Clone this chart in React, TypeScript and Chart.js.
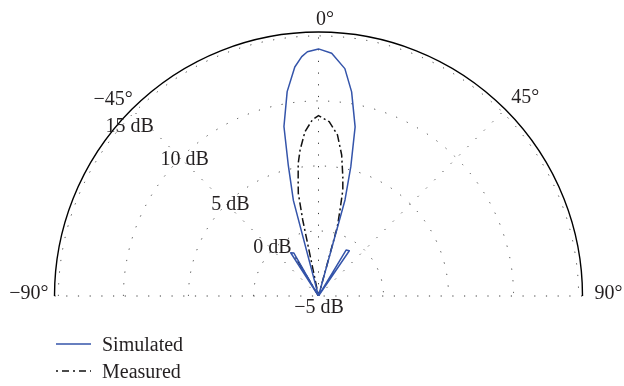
import React, { useEffect, useRef } from 'react';
import { Chart, registerables } from 'chart.js';

Chart.register(...registerables);

// Radial range in dB: centre of the half-disc and outer frame
const rMin = -5;
const rMax = 15.3;

// Grid
const ringLevels = [0, 5, 10, 15];
const ringLabels = ['0 dB', '5 dB', '10 dB', '15 dB'];
const spokeAngles = [-45, 0, 45];
const angleTicks = [-90, -45, 0, 45, 90];
const angleTickLabels = ['−90°', '−45°', '0°', '45°', '90°'];
const centreLabel = '−5 dB';

// Series (angle in degrees from broadside, gain in dB)
const simulatedAngles = [-90, -36, -32.7, -29.8, -25, -18, -14.7, -13, -11.5, -8.7, -5.9, -4, -2.6, 0, 3.1, 6.6, 9.2, 12.2, 14, 15.4, 19, 26, 30.9, 34.2, 38, 90];
const simulatedDb = [-5, -5, -1.05, -1.2, -5, -5, 2.6, 5.3, 8.3, 10.9, 12.7, 13.45, 13.8, 14.0, 13.7, 12.6, 10.9, 8.3, 5.25, 2.66, -5, -5, -0.88, -0.79, -5, -5];

const measuredAngles = [-90, -33, -30.6, -28.5, -14, -11.7, -11.1, -10.1, -8.7, -7.2, -4.7, -2.0, 0, 3.5, 6.7, 9.3, 11.5, 12.9, 14.0, 15.2, 18, 90];
const measuredDb = [-5, -5, -1.6, -5, -5, 0.97, 3.05, 3.9, 5.3, 6.3, 7.68, 8.55, 8.87, 8.43, 7.47, 6.0, 4.36, 3.36, 1.82, 0.52, -5, -5];

const seriesNames = ['Simulated', 'Measured'];
const simColor = '#3454aa';
const measColor = '#111111';
const measDash = [8, 3, 2, 3];
const textColor = '#231f20';
const gridColor = '#3a3a3a';
const font = '20px "Liberation Serif", "DejaVu Serif", serif';

const toXY = (angleDeg: number, db: number) => {
  const rr = Math.max(db, rMin) - rMin;
  const t = (angleDeg * Math.PI) / 180;
  return { x: rr * Math.sin(t), y: rr * Math.cos(t) };
};

const polarGrid = {
  id: 'polarGrid',
  beforeDatasetsDraw(chart: any) {
    const { ctx } = chart;
    const xs = chart.scales.x;
    const ys = chart.scales.y;
    const cx = xs.getPixelForValue(0);
    const cy = ys.getPixelForValue(0);
    const k = ys.getPixelForValue(0) - ys.getPixelForValue(1);
    const rOuter = (rMax - rMin) * k;
    const rLast = (ringLevels[ringLevels.length - 1] - rMin) * k;

    ctx.save();
    ctx.strokeStyle = gridColor;
    ctx.lineWidth = 1;
    ctx.setLineDash([1.2, 10.5]);
    ringLevels.forEach((lv) => {
      const r = (lv - rMin) * k;
      ctx.beginPath();
      ctx.arc(cx, cy, r, Math.PI, 2 * Math.PI);
      ctx.stroke();
    });
    spokeAngles.forEach((a) => {
      const t = (a * Math.PI) / 180;
      ctx.beginPath();
      ctx.moveTo(cx, cy);
      ctx.lineTo(cx + rLast * Math.sin(t), cy - rLast * Math.cos(t));
      ctx.stroke();
    });
    ctx.beginPath();
    ctx.moveTo(cx - rOuter, cy);
    ctx.lineTo(cx + rOuter, cy);
    ctx.stroke();

    ctx.setLineDash([]);
    ctx.strokeStyle = '#000';
    ctx.lineWidth = 1.4;
    ctx.beginPath();
    ctx.arc(cx, cy, rOuter, Math.PI, 2 * Math.PI);
    ctx.stroke();
    ctx.restore();
  },
  afterDraw(chart: any) {
    const { ctx } = chart;
    const xs = chart.scales.x;
    const ys = chart.scales.y;
    const cx = xs.getPixelForValue(0);
    const cy = ys.getPixelForValue(0);
    const k = ys.getPixelForValue(0) - ys.getPixelForValue(1);
    const rOuter = (rMax - rMin) * k;

    ctx.save();
    ctx.font = font;
    ctx.fillStyle = textColor;
    ctx.textBaseline = 'alphabetic';

    // ring labels along the -45° direction
    const ringNudge = [[0, 3], [4, 6], [4, 7], [-5, 20]];
    ringLevels.forEach((lv, i) => {
      const r = (lv - rMin) * k;
      const t = (-45 * Math.PI) / 180;
      const px = cx + r * Math.sin(t) + ringNudge[i][0];
      const py = cy - r * Math.cos(t) + ringNudge[i][1];
      ctx.textAlign = 'center';
      ctx.fillText(ringLabels[i], px, py);
    });
    ctx.textAlign = 'center';
    ctx.fillText(centreLabel, cx + 0.5, cy + 17);

    // angle labels outside the frame
    const angleAlign = ['right', 'right', 'left', 'left', 'left'];
    const angleNudge = [[-6, 3], [1, -4], [-2.5, -7], [6, -6], [12, 3]];
    angleTicks.forEach((a, i) => {
      const t = (a * Math.PI) / 180;
      const px = cx + rOuter * Math.sin(t) + angleNudge[i][0];
      const py = cy - rOuter * Math.cos(t) + angleNudge[i][1];
      ctx.textAlign = angleAlign[i] as CanvasTextAlign;
      ctx.fillText(angleTickLabels[i], px, py);
    });

    // legend
    const legendX0 = 56;
    const legendX1 = 91;
    const rows = [344, 371];
    ctx.lineWidth = 1.5;
    ctx.strokeStyle = simColor;
    ctx.beginPath();
    ctx.moveTo(legendX0, rows[0]);
    ctx.lineTo(legendX1, rows[0]);
    ctx.stroke();
    ctx.strokeStyle = measColor;
    ctx.setLineDash([2, 4, 7, 4]);
    ctx.beginPath();
    ctx.moveTo(legendX0, rows[1]);
    ctx.lineTo(legendX1, rows[1]);
    ctx.stroke();
    ctx.setLineDash([]);
    ctx.textAlign = 'left';
    ctx.fillText(seriesNames[0], 102, rows[0] + 7);
    ctx.fillText(seriesNames[1], 102, rows[1] + 7);
    ctx.restore();
  },
};

export default function App() {
  const canvasRef = useRef<HTMLCanvasElement | null>(null);

  useEffect(() => {
    if (!canvasRef.current) return;
    const span = rMax - rMin;
    const chart = new Chart(canvasRef.current, {
      type: 'scatter',
      data: {
        datasets: [
          {
            label: seriesNames[0],
            data: simulatedAngles.map((a, i) => toXY(a, simulatedDb[i])),
            showLine: true,
            borderColor: simColor,
            borderWidth: 1.5,
            pointRadius: 0,
            fill: false,
            tension: 0,
          },
          {
            label: seriesNames[1],
            data: measuredAngles.map((a, i) => toXY(a, measuredDb[i])),
            showLine: true,
            borderColor: measColor,
            borderWidth: 1.5,
            borderDash: measDash,
            pointRadius: 0,
            fill: false,
            tension: 0,
          },
        ],
      },
      options: {
        responsive: true,
        maintainAspectRatio: false,
        animation: false,
        layout: { padding: { left: 54, right: 41, top: 32, bottom: 90 } },
        scales: {
          x: { type: 'linear', min: -span, max: span, display: false },
          y: { type: 'linear', min: 0, max: span, display: false },
        },
        plugins: {
          legend: { display: false },
          tooltip: { enabled: false },
        },
        elements: { line: { borderJoinStyle: 'round' } },
      },
      plugins: [polarGrid],
    });
    return () => chart.destroy();
  }, []);

  return (
    <div style={{ position: 'absolute', left: 0, top: 0, width: 624, height: 386, background: '#fff' }}>
      <canvas ref={canvasRef} />
    </div>
  );
}
